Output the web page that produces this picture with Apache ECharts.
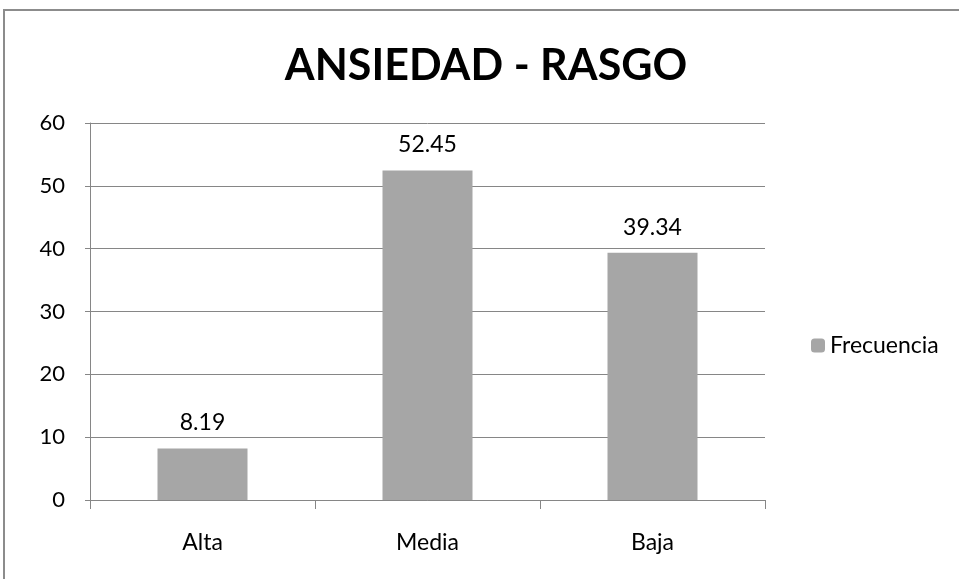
<!DOCTYPE html>
<html>
<head>
<meta charset="utf-8">
<script src="https://cdn.jsdelivr.net/npm/echarts@6/dist/echarts.min.js"></script>
<style>
  html, body { margin: 0; padding: 0; background: #fff; }
  #chart { width: 959px; height: 579px; }
</style>
</head>
<body>
<div id="chart"></div>
<script>
const categories = ['Alta', 'Media', 'Baja']
const frecuencia = [8.19, 52.45, 39.34]
const seriesName = 'Frecuencia'

const myChart = echarts.init(document.getElementById('chart'))
const font = 'Lato, "Open Sans", sans-serif'
const option = {
  animation: false,
  textStyle: { fontFamily: font },
  graphic: [
    {
      type: 'rect',
      shape: { x: 4, y: 10, width: 1000, height: 1000 },
      style: { fill: 'none', stroke: '#8c8c8c', lineWidth: 2 },
      silent: true
    }
  ],
  title: {
    text: 'ANSIEDAD - RASGO',
    left: 481,
    textAlign: 'center',
    top: 40,
    textStyle: { fontFamily: font, fontSize: 43, fontWeight: 'bold', color: '#000' }
  },
  legend: {
    data: [seriesName],
    left: 806,
    top: 329,
    itemWidth: 14,
    itemHeight: 14,
    itemGap: 8,
    textStyle: { fontFamily: font, fontSize: 23, color: '#000' }
  },
  grid: {
    left: 90,
    right: 194,
    top: 123,
    bottom: 79,
    containLabel: false
  },
  xAxis: {
    type: 'category',
    data: categories,
    axisLine: { lineStyle: { color: '#868686', width: 1 } },
    axisTick: { show: true, length: 9, lineStyle: { color: '#868686' } },
    axisLabel: { fontSize: 23, color: '#000', margin: 31, fontFamily: font }
  },
  yAxis: {
    type: 'value',
    min: 0,
    max: 60,
    interval: 10,
    axisLine: { show: true, lineStyle: { color: '#868686', width: 1 } },
    axisTick: { show: true, length: 5, lineStyle: { color: '#868686' } },
    axisLabel: { fontSize: 22, color: '#000', margin: 25, fontFamily: font },
    splitLine: { lineStyle: { color: '#868686', width: 1 } }
  },
  series: [
    {
      name: seriesName,
      type: 'bar',
      data: frecuencia,
      barWidth: '40%',
      itemStyle: { color: '#a6a6a6' },
      label: {
        show: true,
        position: 'top',
        distance: 14,
        fontSize: 23,
        color: '#000',
        fontFamily: font,
        formatter: p => p.value.toFixed(2)
      }
    }
  ]
}
myChart.setOption(option)
</script>
</body>
</html>
